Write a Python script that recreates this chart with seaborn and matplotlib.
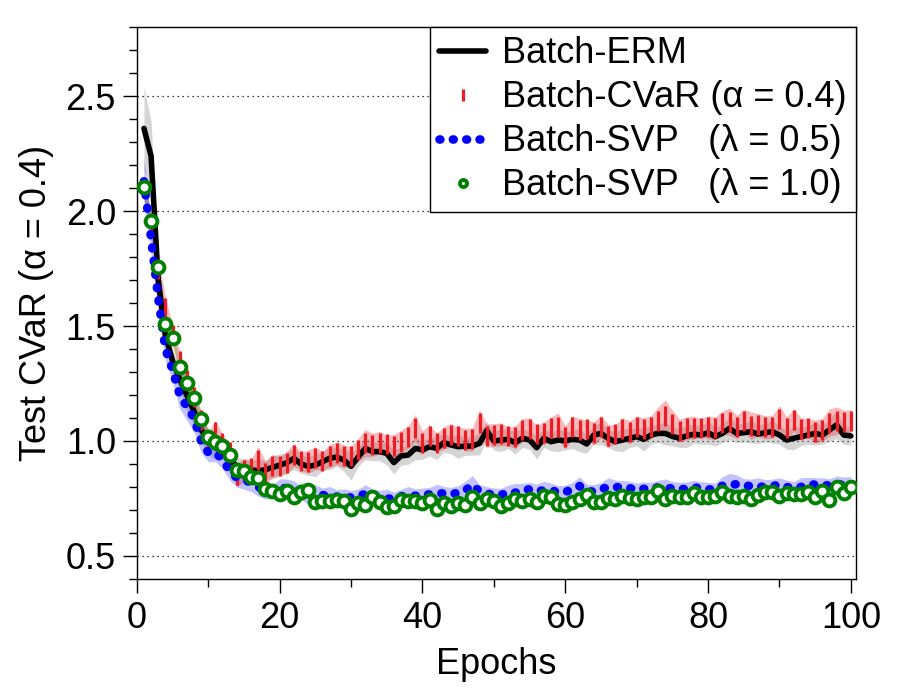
import matplotlib
matplotlib.use("Agg")
import numpy as np
import pandas as pd
import seaborn as sns
import matplotlib.pyplot as plt
from matplotlib.ticker import MultipleLocator

# ---------------- data ----------------
epochs = list(range(1, 101))

erm = [
    2.36, 2.24, 1.70, 1.46, 1.35, 1.27, 1.20, 1.13, 1.05, 1.00,
    0.97, 0.96, 0.92, 0.89, 0.88, 0.875, 0.87, 0.875, 0.885, 0.895,
    0.905, 0.925, 0.90, 0.89, 0.895, 0.91, 0.925, 0.93, 0.917, 0.89,
    0.93, 0.968, 0.954, 0.954, 0.946, 0.906, 0.935, 0.939, 0.968, 0.961,
    0.975, 0.968, 0.993, 0.983, 0.975, 0.978, 0.978, 0.99, 1.045, 1.0,
    1.004, 1.007, 0.993, 1.012, 1.004, 0.971, 1.012, 0.997, 1.004, 1.001,
    1.007, 1.004, 0.987, 1.026, 1.033, 1.012, 0.997, 1.004, 1.012, 1.019,
    1.007, 1.026, 1.033, 1.033, 1.02, 1.012, 1.022, 1.03, 1.026, 1.036,
    1.019, 1.033, 1.055, 1.033, 1.036, 1.041, 1.030, 1.036, 1.041, 1.026,
    1.004, 1.012, 1.019, 1.026, 1.033, 1.026, 1.048, 1.070, 1.026, 1.022]

cvar = [
    2.10, 1.93, 1.75, 1.58, 1.46, 1.35, 1.265, 1.19, 1.09, 1.00,
    1.04, 0.99, 0.95, 0.85, 0.874, 0.881, 0.917, 0.862, 0.891, 0.891,
    0.906, 0.939, 0.912, 0.910, 0.925, 0.915, 0.935, 0.946, 0.933, 0.935,
    0.962, 0.99, 0.984, 0.992, 0.985, 0.978, 0.997, 1.017, 1.055, 0.993,
    1.022, 0.993, 1.013, 1.026, 1.020, 1.006, 1.007, 1.077, 1.023, 1.026,
    1.029, 1.020, 1.016, 1.048, 1.051, 1.030, 1.033, 1.055, 1.062, 1.016,
    1.059, 1.048, 1.051, 1.033, 1.062, 1.022, 1.030, 1.051, 1.038, 1.059,
    1.051, 1.059, 1.088, 1.109, 1.074, 1.045, 1.055, 1.058, 1.058, 1.059,
    1.055, 1.080, 1.084, 1.062, 1.088, 1.067, 1.070, 1.059, 1.062, 1.094,
    1.055, 1.091, 1.051, 1.058, 1.041, 1.048, 1.080, 1.088, 1.083, 1.087]

svp05 = [
    2.13, 1.88, 1.62, 1.40, 1.31, 1.20, 1.15, 1.10, 1.00, 0.95,
    0.95, 0.92, 0.87, 0.84, 0.83, 0.82, 0.80, 0.787, 0.78, 0.795,
    0.795, 0.787, 0.775, 0.765, 0.77, 0.765, 0.762, 0.758, 0.752, 0.755,
    0.76, 0.77, 0.762, 0.755, 0.75, 0.748, 0.76, 0.762, 0.762, 0.765,
    0.768, 0.772, 0.772, 0.768, 0.775, 0.785, 0.81, 0.78, 0.772, 0.765,
    0.765, 0.778, 0.775, 0.785, 0.79, 0.782, 0.785, 0.787, 0.776, 0.778,
    0.79, 0.804, 0.782, 0.78, 0.79, 0.80, 0.80, 0.797, 0.795, 0.787,
    0.792, 0.79, 0.799, 0.795, 0.794, 0.79, 0.792, 0.799, 0.793, 0.79,
    0.787, 0.805, 0.809, 0.812, 0.806, 0.804, 0.80, 0.802, 0.804, 0.81,
    0.80, 0.794, 0.80, 0.812, 0.81, 0.81, 0.806, 0.808, 0.813, 0.806]

svp10 = [
    2.106, 1.957, 1.755, 1.509, 1.449, 1.323, 1.253, 1.186, 1.094, 1.016,
    0.997, 0.978, 0.939, 0.874, 0.868, 0.842, 0.838, 0.790, 0.783, 0.771,
    0.784, 0.755, 0.780, 0.785, 0.735, 0.741, 0.741, 0.743, 0.738, 0.702,
    0.732, 0.722, 0.757, 0.734, 0.712, 0.717, 0.742, 0.737, 0.737, 0.729,
    0.742, 0.706, 0.732, 0.717, 0.732, 0.723, 0.758, 0.732, 0.746, 0.738,
    0.717, 0.732, 0.749, 0.741, 0.749, 0.735, 0.762, 0.758, 0.726, 0.720,
    0.735, 0.749, 0.764, 0.735, 0.736, 0.752, 0.748, 0.761, 0.751, 0.748,
    0.758, 0.758, 0.784, 0.749, 0.760, 0.758, 0.755, 0.775, 0.758, 0.758,
    0.762, 0.778, 0.761, 0.758, 0.761, 0.749, 0.765, 0.780, 0.778, 0.761,
    0.775, 0.770, 0.768, 0.780, 0.755, 0.784, 0.743, 0.799, 0.772, 0.799]

# half-widths of the shaded bands
erm_sd = [
    0.18, 0.15, 0.08, 0.06, 0.05, 0.05, 0.07, 0.06, 0.05, 0.06,
    0.05, 0.04, 0.05, 0.04, 0.04, 0.04, 0.05, 0.04, 0.05, 0.05,
    0.04, 0.05, 0.04, 0.04, 0.05, 0.04, 0.05, 0.04, 0.05, 0.06,
    0.04, 0.05, 0.04, 0.04, 0.05, 0.05, 0.04, 0.04, 0.05, 0.04,
    0.04, 0.05, 0.04, 0.04, 0.05, 0.04, 0.04, 0.05, 0.04, 0.04,
    0.05, 0.04, 0.05, 0.04, 0.04, 0.05, 0.04, 0.04, 0.05, 0.04,
    0.04, 0.05, 0.04, 0.04, 0.05, 0.04, 0.04, 0.05, 0.04, 0.04,
    0.05, 0.04, 0.04, 0.05, 0.04, 0.04, 0.05, 0.04, 0.04, 0.05,
    0.04, 0.04, 0.05, 0.04, 0.04, 0.05, 0.04, 0.04, 0.05, 0.04,
    0.04, 0.05, 0.04, 0.04, 0.05, 0.04, 0.05, 0.06, 0.04, 0.04]

cvar_sd = [
    0.05, 0.05, 0.05, 0.05, 0.04, 0.04, 0.04, 0.04, 0.04, 0.04,
    0.05, 0.04, 0.04, 0.05, 0.05, 0.04, 0.06, 0.05, 0.05, 0.04,
    0.05, 0.05, 0.04, 0.05, 0.05, 0.04, 0.05, 0.05, 0.05, 0.04,
    0.05, 0.06, 0.05, 0.05, 0.04, 0.05, 0.05, 0.05, 0.06, 0.05,
    0.05, 0.04, 0.05, 0.05, 0.04, 0.05, 0.05, 0.06, 0.05, 0.05,
    0.05, 0.04, 0.05, 0.05, 0.05, 0.04, 0.05, 0.05, 0.06, 0.05,
    0.05, 0.05, 0.04, 0.05, 0.05, 0.05, 0.04, 0.05, 0.05, 0.05,
    0.05, 0.05, 0.06, 0.07, 0.06, 0.05, 0.05, 0.05, 0.04, 0.05,
    0.05, 0.05, 0.06, 0.05, 0.05, 0.06, 0.05, 0.05, 0.05, 0.06,
    0.05, 0.05, 0.05, 0.04, 0.05, 0.05, 0.06, 0.06, 0.05, 0.05]

svp05_sd = [
    0.10, 0.07, 0.06, 0.05, 0.05, 0.06, 0.06, 0.06, 0.05, 0.04,
    0.04, 0.04, 0.04, 0.04, 0.04, 0.04, 0.04, 0.04, 0.03, 0.04,
    0.04, 0.04, 0.03, 0.04, 0.04, 0.03, 0.04, 0.03, 0.04, 0.03,
    0.03, 0.04, 0.03, 0.03, 0.04, 0.03, 0.03, 0.04, 0.03, 0.03,
    0.03, 0.04, 0.03, 0.03, 0.03, 0.04, 0.04, 0.03, 0.03, 0.03,
    0.03, 0.03, 0.04, 0.03, 0.03, 0.03, 0.04, 0.03, 0.03, 0.03,
    0.03, 0.04, 0.03, 0.03, 0.03, 0.04, 0.03, 0.03, 0.03, 0.03,
    0.03, 0.03, 0.03, 0.04, 0.03, 0.03, 0.03, 0.03, 0.03, 0.03,
    0.03, 0.04, 0.05, 0.04, 0.03, 0.03, 0.04, 0.03, 0.03, 0.03,
    0.03, 0.03, 0.04, 0.03, 0.03, 0.03, 0.03, 0.04, 0.03, 0.04]

svp10_sd = [
    0.05, 0.04, 0.04, 0.04, 0.03, 0.03, 0.04, 0.04, 0.03, 0.03,
    0.03, 0.04, 0.03, 0.03, 0.03, 0.03, 0.03, 0.03, 0.03, 0.03,
    0.03, 0.03, 0.04, 0.03, 0.03, 0.02, 0.03, 0.03, 0.02, 0.03,
    0.03, 0.02, 0.03, 0.03, 0.02, 0.03, 0.03, 0.02, 0.03, 0.03,
    0.02, 0.03, 0.03, 0.02, 0.03, 0.03, 0.03, 0.02, 0.03, 0.03,
    0.02, 0.03, 0.03, 0.02, 0.03, 0.03, 0.02, 0.03, 0.03, 0.02,
    0.03, 0.03, 0.03, 0.02, 0.03, 0.03, 0.02, 0.03, 0.03, 0.02,
    0.03, 0.03, 0.03, 0.02, 0.03, 0.02, 0.03, 0.03, 0.02, 0.03,
    0.03, 0.03, 0.02, 0.03, 0.03, 0.02, 0.03, 0.03, 0.02, 0.03,
    0.03, 0.02, 0.03, 0.03, 0.02, 0.03, 0.03, 0.03, 0.02, 0.03]

labels = ["Batch-ERM", "Batch-CVaR (α = 0.4)",
          "Batch-SVP   (λ = 0.5)", "Batch-SVP   (λ = 1.0)"]
x_ticks = [0, 20, 40, 60, 80, 100]
y_ticks = [0.5, 1.0, 1.5, 2.0, 2.5]

# ---------------- style ----------------
sns.set_style("ticks")
plt.rcParams["font.family"] = ["Liberation Sans", "DejaVu Sans"]
FS = 26
plt.rcParams["font.size"] = FS
plt.rcParams["text.color"] = "black"
plt.rcParams["axes.labelcolor"] = "black"
plt.rcParams["xtick.color"] = "black"
plt.rcParams["ytick.color"] = "black"

fig = plt.figure(figsize=(9, 7), dpi=100)
ax = fig.add_axes([0.152, 0.173, 0.799, 0.788])

df = pd.DataFrame({"epoch": epochs, "erm": erm, "cvar": cvar,
                   "svp05": svp05, "svp10": svp10})

RED = "#ee1c24"
BLUE = "#0000ff"
GREEN = "#008000"

# shaded bands
bands = [(erm, erm_sd, "#8c8c8c", 0.36),
         (cvar, cvar_sd, RED, 0.30),
         (svp05, svp05_sd, BLUE, 0.24),
         (svp10, svp10_sd, GREEN, 0.22)]
for mean, sd, col, a in bands:
    m = np.array(mean)
    s = np.array(sd)
    ax.fill_between(epochs, m - s, m + s, color=col, alpha=a, lw=0, zorder=1)

sns.lineplot(data=df, x="epoch", y="erm", ax=ax, color="black", linewidth=4.0,
             label=labels[0], zorder=3, errorbar=None)
sns.lineplot(data=df, x="epoch", y="cvar", ax=ax, color=RED, marker="|",
             linestyle="none", markersize=14, markeredgewidth=2.3,
             markeredgecolor=RED, label=labels[1], zorder=4, errorbar=None)
sns.lineplot(data=df, x="epoch", y="svp05", ax=ax, color=BLUE, linewidth=6.2,
             linestyle=(0, (0.1, 1.45)), dash_capstyle="round",
             label=labels[2], zorder=5, errorbar=None)
sns.lineplot(data=df, x="epoch", y="svp10", ax=ax, color=GREEN, marker="o",
             linestyle="none", markersize=8.5, markerfacecolor="white",
             markeredgecolor=GREEN, markeredgewidth=2.8,
             label=labels[3], zorder=6, errorbar=None)

# axes
ax.set_xlim(0, 100.7)
ax.set_ylim(0.4, 2.8)
ax.set_xticks(x_ticks)
ax.set_yticks(y_ticks)
ax.xaxis.set_minor_locator(MultipleLocator(10))
ax.yaxis.set_minor_locator(MultipleLocator(0.1))
ax.tick_params(which="major", length=10, width=1, direction="out",
               color="black", labelsize=FS, labelcolor="black")
ax.tick_params(which="minor", length=5.5, width=1, direction="out", color="black")
ax.tick_params(axis="x", which="major", pad=6)
ax.tick_params(axis="y", which="major", pad=5)
for sp in ax.spines.values():
    sp.set_color("black")
    sp.set_linewidth(1.0)

ax.set_axisbelow(True)
ax.grid(axis="y", which="major", linestyle=(0, (1, 3)), color="black", linewidth=0.9)
ax.grid(axis="x", visible=False)

ax.set_xlabel("Epochs", fontsize=FS, labelpad=8, color="black")
ax.set_ylabel("Test CVaR (α = 0.4)", fontsize=FS, labelpad=8, color="black")

leg = ax.legend(loc="upper right", bbox_to_anchor=(1.0, 1.0), borderaxespad=0,
                frameon=True, fancybox=False, edgecolor="black", framealpha=1,
                fontsize=FS, handlelength=1.3, handletextpad=0.45,
                labelspacing=0.25, borderpad=0.25, markerscale=0.6, numpoints=1,
                labelcolor="black")
leg.get_frame().set_linewidth(1.0)

fig.savefig("out.png", dpi=100)
